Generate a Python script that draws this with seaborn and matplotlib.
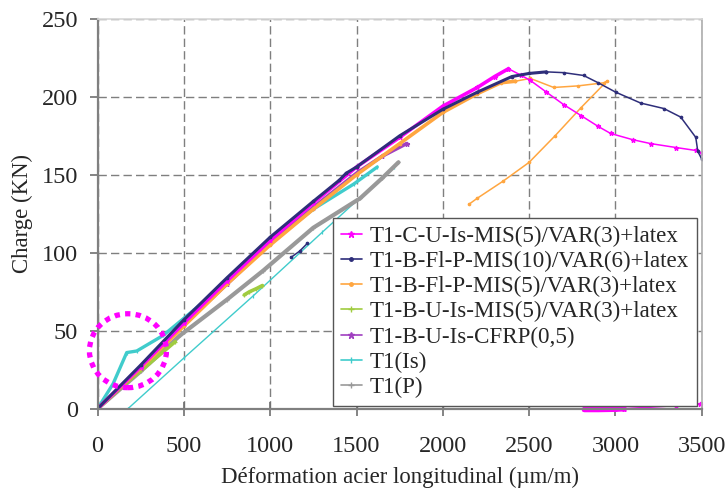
import numpy as np
import pandas as pd
import matplotlib
matplotlib.use("Agg")
import matplotlib.pyplot as plt
import seaborn as sns
from matplotlib.patches import Ellipse
from matplotlib.lines import Line2D

sns.set_theme(style="white")
plt.rcParams["font.family"] = ["Liberation Serif", "DejaVu Serif"]

labels = [
    "T1-C-U-Is-MIS(5)/VAR(3)+latex",
    "T1-B-Fl-P-MIS(10)/VAR(6)+latex",
    "T1-B-Fl-P-MIS(5)/VAR(3)+latex",
    "T1-B-U-Is-MIS(5)/VAR(3)+latex",
    "T1-B-U-Is-CFRP(0,5)",
    "T1(Is)",
    "T1(P)",
]

# --- series data: strain (µm/m), load (kN); NaN separates disjoint segments ---
nan = np.nan
cu_x = [0, 250, 500, 750, 1000, 1250, 1500, 1750, 2000, 2200, 2300, 2380]
cu_y = [0, 27, 55, 82, 108, 132, 155, 174, 194, 206, 213, 218]
cu_post_x = [2380, 2450, 2507, 2600, 2700, 2800, 2900, 2972, 3100, 3204, 3350, 3465, 3500]
cu_post_y = [218, 214, 210.5, 203, 195, 188, 181, 176.5, 172.5, 170, 167.5, 165.6, 164]
cu_ground_x = [2820, 2900, 3000, 3050, nan, 3050, 3175, 3350, 3490]
cu_ground_y = [-0.5, -0.5, -0.3, 0, nan, 0, 0.8, 2, 3]

bf10_x = [0, 250, 500, 750, 1000, 1250, 1400, 1440, 1500, 1750, 2000, 2200, 2400, 2500, 2600]
bf10_y = [0, 28, 57, 84, 110, 133, 146.5, 151, 155, 175, 192, 203, 213, 215, 216]
bf10_post_x = [2600, 2700, 2815, 2900, 3001, 3146, 3280, 3378, 3465, 3477, 3500, nan, 1120, 1170, 1215]
bf10_post_y = [216, 215.5, 213.7, 209, 203, 196, 192.5, 187, 174, 165, 160, nan, 97, 101, 106]

bf5_x = [0, 250, 500, 750, 1000, 1250, 1500, 1750, 2000, 2200, 2335, 2420]
bf5_y = [0, 26, 53, 80, 105, 128, 150, 170, 190, 202, 209, 210]
bf5_post_x = [2420, 2507, 2642, 2782, 2933, 2950, 2800, 2650, 2500, 2350, 2200, 2150]
bf5_post_y = [210, 211.8, 206, 207, 209, 210, 193, 175, 158, 146, 135, 131]

bu_x = [0, 150, 300, 450, nan, 850, 880, 920, 955]
bu_y = [0, 15, 29, 43, nan, 73, 75, 77, 79]

cfrp_x = [0, 250, 500, 750, 1000, 1250, 1500, 1650, 1790]
cfrp_y = [0, 26, 54, 80, 106, 129, 151, 162, 170]

is_x = [0, 90, 169, 227, 380, 555, 750, 1000, 1250, 1483, 1620]
is_y = [0, 16, 36, 37, 47, 63, 81, 106, 128, 144, 155]
is2_x = [176, 500, 903, 1300, 1715]
is2_y = [0, 32.5, 72.5, 113, 155]

p_x = [0, 250, 478, 750, 960, 1249, 1522, 1650, 1743]
p_y = [0, 24, 47, 70, 88.6, 116, 135, 148, 158]

colors = ["#FF00FF", "#2E2E7A", "#FFA640", "#A0CC40", "#A040C0", "#40CCCC", "#999999"]
markers = ["*", ".", ".", "+", "*", "|", "+"]

# (series index, x, y, linewidth, clip)
layers = [
    (5, is2_x, is2_y, 1.0, True),
    (6, p_x, p_y, 3.0, True),
    (5, is_x, is_y, 2.4, True),
    (3, bu_x, bu_y, 2.6, True),
    (4, cfrp_x, cfrp_y, 2.6, True),
    (2, bf5_x, bf5_y, 2.6, True),
    (2, bf5_post_x, bf5_post_y, 1.1, True),
    (0, cu_x, cu_y, 2.6, True),
    (0, cu_post_x, cu_post_y, 1.1, True),
    (0, cu_ground_x, cu_ground_y, 4.0, False),
    (1, bf10_x, bf10_y, 2.2, True),
    (1, bf10_post_x, bf10_post_y, 1.1, True),
]

fig, ax = plt.subplots(figsize=(7.28, 4.96), dpi=100)
fig.subplots_adjust(left=0.134, right=0.964, bottom=0.176, top=0.962)

for i, lx, ly, lw, clip in layers:
    x = np.array(lx, dtype=float)
    y = np.array(ly, dtype=float)
    seg = np.cumsum(np.isnan(x))
    df = pd.DataFrame({"x": x, "y": y, "seg": seg}).dropna()
    for s, d in df.groupby("seg"):
        w = lw if not (clip is False and s > 0) else 1.2
        sns.lineplot(data=d, x="x", y="y", ax=ax, color=colors[i], lw=w,
                     marker=markers[i], markersize=3.5, markeredgewidth=0.9,
                     markeredgecolor=colors[i], sort=False, estimator=None,
                     legend=False, clip_on=clip)

ax.set_xlim(0, 3500)
ax.set_ylim(0, 250)
ax.set_xticks(np.arange(0, 3501, 500))
ax.set_yticks(np.arange(0, 251, 50))

ax.grid(True, color="#7f7f7f", linestyle=(0, (6, 3)), lw=1.0)
ax.set_axisbelow(True)
for s in ["left", "bottom"]:
    ax.spines[s].set_color("#808080")
    ax.spines[s].set_linewidth(1.6)
ax.spines["top"].set_color("#d8d8d8")
ax.spines["right"].set_color("#b0b0b0")
ax.tick_params(axis="x", direction="inout", length=10, width=1.2, color="#707070",
               labelsize=17.5, pad=15, bottom=True)
ax.tick_params(axis="y", direction="out", length=6, width=1.2, color="#707070",
               labelsize=17.5, pad=8, left=True)

ax.set_xlabel("Déformation acier longitudinal (µm/m)", fontsize=16.4, labelpad=7)
ax.set_ylabel("Charge (KN)", fontsize=16.4, labelpad=6)

hl = [Line2D([], [], color=colors[i], lw=1.2, marker=markers[i], markersize=5)
      for i in range(len(labels))]
leg = ax.legend(hl, labels, loc="upper left", bbox_to_anchor=(0.3896, 0.489),
                borderaxespad=0, fontsize=16.6, frameon=True, fancybox=False,
                edgecolor="#555555", framealpha=1, handlelength=0.9,
                handletextpad=0.35, labelspacing=0.17, borderpad=0.35)
leg.get_frame().set_linewidth(1.0)

circ = Ellipse((176, 37.2), width=446, height=47.4, transform=ax.transData, fill=False,
               edgecolor="#FF00FF", lw=3.8, linestyle=(0, (1, 1)), clip_on=False, zorder=5)
ax.add_patch(circ)

fig.savefig("out.png", dpi=100)
